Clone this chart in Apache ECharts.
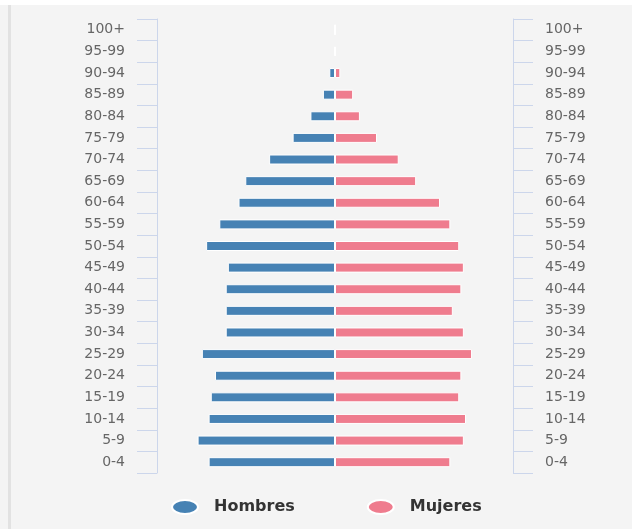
<!DOCTYPE html>
<html>
<head>
<meta charset="utf-8">
<script src="https://cdn.jsdelivr.net/npm/echarts@6/dist/echarts.min.js"></script>
<style>
  html, body { margin: 0; padding: 0; background: #f4f4f4; }
  #topstrip { position: absolute; left: 0; top: 0; width: 632px; height: 5px; background: #ffffff; }
  #edge { position: absolute; left: 8px; top: 5px; width: 3px; height: 524px; background: #e2e2e2; }
  #chart { position: absolute; left: 0; top: 0; width: 632px; height: 529px; }
</style>
</head>
<body>
<div id="topstrip"></div>
<div id="edge"></div>
<div id="chart"></div>
<script>
// Age groups, bottom to top
const ageGroups = ['0-4','5-9','10-14','15-19','20-24','25-29','30-34','35-39','40-44','45-49',
  '50-54','55-59','60-64','65-69','70-74','75-79','80-84','85-89','90-94','95-99','100+'];
// Share of population (%) — Hombres stored as negative to draw left of centre
const hombres = [-3.55,-3.86,-3.55,-3.49,-3.37,-3.74,-3.07,-3.07,-3.07,-3.01,
  -3.62,-3.25,-2.71,-2.52,-1.85,-1.19,-0.69,-0.34,-0.16,-0.03,0];
const mujeres = [3.24,3.62,3.68,3.49,3.55,3.85,3.62,3.31,3.55,3.62,
  3.49,3.24,2.95,2.28,1.79,1.18,0.70,0.51,0.15,0.03,0];
const seriesNames = ['Hombres','Mujeres'];

const chart = echarts.init(document.getElementById('chart'), null, { renderer: 'canvas' });
const labelStyle = { color: '#666666', fontSize: 14, fontFamily: 'DejaVu Sans', margin: 32 };
const axisCommon = {
  type: 'category',
  data: ageGroups,
  boundaryGap: true,
  axisLine: { show: true, onZero: false, lineStyle: { color: '#ccd6eb', width: 1 } },
  axisTick: { show: true, length: 20, alignWithLabel: false, lineStyle: { color: '#ccd6eb', width: 1 } },
  splitLine: { show: false }
};
chart.setOption({
  backgroundColor: 'transparent',
  animation: false,
  grid: { left: 157, right: 119, top: 19, bottom: 56 },
  xAxis: { type: 'value', min: -5, max: 5, show: false },
  yAxis: [
    Object.assign({}, axisCommon, { position: 'left', axisLabel: Object.assign({}, labelStyle) }),
    Object.assign({}, axisCommon, { position: 'right', axisLabel: Object.assign({}, labelStyle) })
  ],
  legend: {
    bottom: 14,
    left: 171,
    padding: 0,
    itemWidth: 26,
    itemHeight: 14,
    itemGap: 72,
    symbolKeepAspect: false,
    icon: 'path://M0,50 A50,50 0 1,1 100,50 A50,50 0 1,1 0,50 Z',
    textStyle: { color: '#333333', fontSize: 16, fontWeight: 'bold', fontFamily: 'DejaVu Sans', padding: [0, 0, 0, 11] },
    data: seriesNames
  },
  series: [
    {
      name: seriesNames[0], type: 'bar', data: hombres, yAxisIndex: 0,
      barWidth: 10, barGap: '-100%',
      itemStyle: { color: '#4682b4', borderColor: '#ffffff', borderWidth: 1 }
    },
    {
      name: seriesNames[1], type: 'bar', data: mujeres, yAxisIndex: 0,
      barWidth: 10, barGap: '-100%',
      itemStyle: { color: '#ef7c8e', borderColor: '#ffffff', borderWidth: 1 }
    }
  ]
});
</script>
</body>
</html>
